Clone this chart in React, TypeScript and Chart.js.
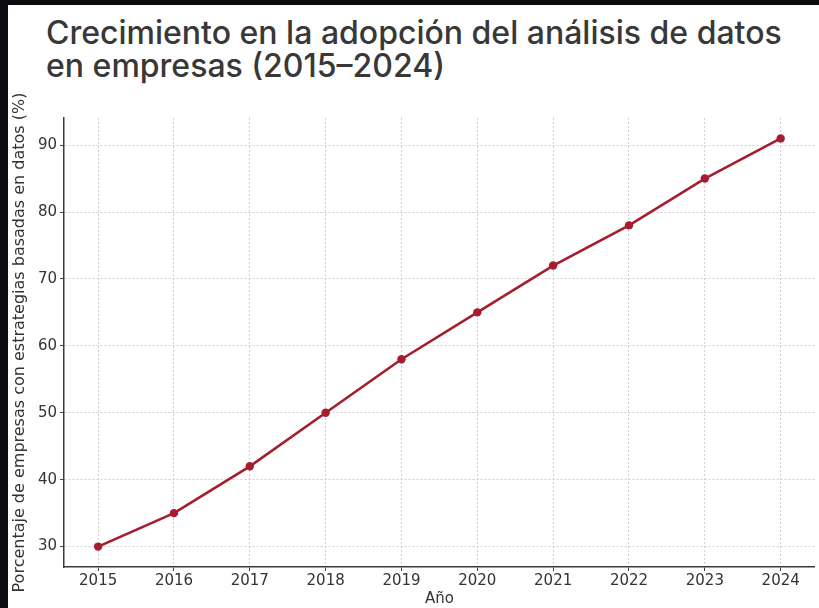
import React, { useEffect, useRef } from 'react';
import { Chart, registerables } from 'chart.js';

Chart.register(...registerables);

const years = ['2015', '2016', '2017', '2018', '2019', '2020', '2021', '2022', '2023', '2024'];
const adoption = [30, 35, 42, 50, 58, 65, 72, 78, 85, 91];
const yTicks = [30, 40, 50, 60, 70, 80, 90];

const TITLE_1 = 'Crecimiento en la adopción del análisis de datos';
const TITLE_2 = 'en empresas (2015–2024)';
const X_TITLE = 'Año';
const Y_TITLE = 'Porcentaje de empresas con estrategias basadas en datos (%)';

const LINE_COLOR = '#a51d2e';

export default function App() {
  const ref = useRef<HTMLCanvasElement | null>(null);

  useEffect(() => {
    if (!ref.current) return;
    const chart = new Chart(ref.current, {
      type: 'line',
      data: {
        datasets: [
          {
            data: adoption.map((v, i) => ({ x: i, y: v })),
            borderColor: LINE_COLOR,
            backgroundColor: LINE_COLOR,
            borderWidth: 2.6,
            pointRadius: 4.2,
            pointHoverRadius: 4.2,
            pointBackgroundColor: LINE_COLOR,
            pointBorderWidth: 0,
            tension: 0,
          },
        ],
      },
      options: {
        responsive: false,
        animation: false,
        devicePixelRatio: 1,
        layout: { padding: { top: 28, right: 4, left: 0, bottom: 0 } },
        plugins: {
          legend: { display: false },
          tooltip: { enabled: false },
        },
        scales: {
          x: {
            type: 'linear',
            min: -0.45,
            max: 9.45,
            afterBuildTicks: (scale: any) => {
              scale.ticks = years.map((_, i) => ({ value: i }));
            },
            afterFit: (scale: any) => {
              scale.height = 41;
            },
            ticks: {
              callback: (v: any) => years[Math.round(Number(v))] ?? '',
              color: '#333',
              font: { family: 'DejaVu Sans', size: 15 },
              padding: 1,
              maxRotation: 0,
              autoSkip: false,
            },
            grid: {
              color: '#d2cfcf',
              lineWidth: 1,
              tickColor: '#444',
              tickLength: 4,
              tickBorderDash: [],
            },
            border: { display: true, color: '#3a3a3a', width: 1.5, dash: [2, 2] },
            title: {
              display: true,
              text: X_TITLE,
              color: '#333',
              font: { family: 'DejaVu Sans', size: 15 },
              padding: { top: 0, bottom: 0 },
            },
          },
          y: {
            type: 'linear',
            min: 26.95,
            max: 94.05,
            afterBuildTicks: (scale: any) => {
              scale.ticks = yTicks.map((v) => ({ value: v }));
            },
            afterFit: (scale: any) => {
              scale.width = 64;
            },
            ticks: {
              color: '#333',
              font: { family: 'DejaVu Sans', size: 15 },
              padding: 3,
            },
            grid: {
              color: '#d2cfcf',
              lineWidth: 1,
              tickColor: '#444',
              tickLength: 4,
              tickBorderDash: [],
            },
            border: { display: true, color: '#3a3a3a', width: 1.5, dash: [2, 2] },
            title: {
              display: true,
              text: Y_TITLE,
              color: '#333',
              font: { family: 'DejaVu Sans', size: 16 },
              padding: { top: 10, bottom: 0 },
            },
          },
        },
      },
    });
    return () => chart.destroy();
  }, []);

  return (
    <div
      style={{
        position: 'absolute',
        left: 0,
        top: 0,
        width: 819,
        height: 608,
        background: '#0b0b10',
        overflow: 'hidden',
      }}
    >
      <div
        style={{
          position: 'absolute',
          left: 8,
          top: 5,
          width: 811,
          height: 603,
          background: '#ffffff',
        }}
      />
      <div
        style={{
          position: 'absolute',
          left: 46,
          top: 16,
          fontFamily: 'Inter, sans-serif',
          fontWeight: 500,
          fontSize: 32,
          lineHeight: '33px',
          color: '#383838',
          whiteSpace: 'nowrap',
        }}
      >
        <div>{TITLE_1}</div>
        <div>{TITLE_2}</div>
      </div>
      <canvas
        ref={ref}
        width={819}
        height={518}
        style={{ position: 'absolute', left: 0, top: 90, width: 819, height: 518 }}
      />
    </div>
  );
}
